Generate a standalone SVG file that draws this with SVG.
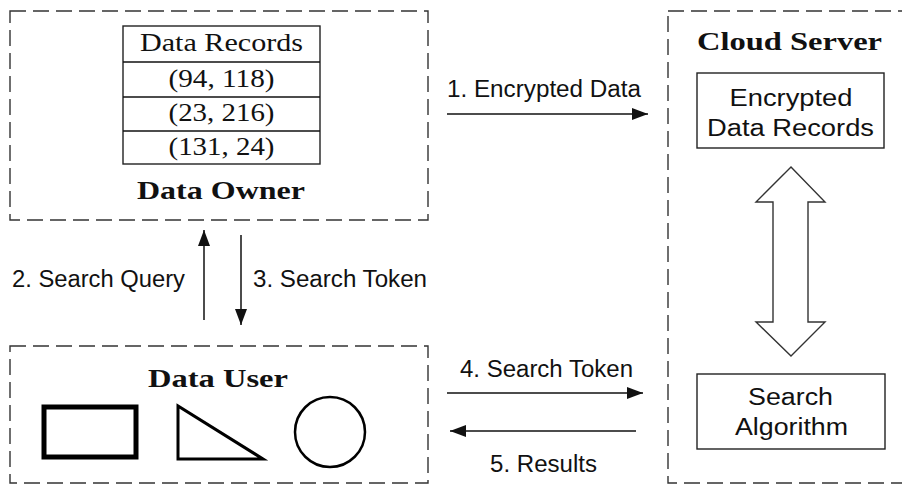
<svg xmlns="http://www.w3.org/2000/svg" width="902" height="484" viewBox="0 0 902 484">
  <style>
    .zone { fill: none; stroke: #333; stroke-width: 1.4; stroke-dasharray: 16 7; }
    .box { fill: #fff; stroke: #222; stroke-width: 1.4; }
    .serif { font-family: "Liberation Serif", "DejaVu Serif", serif; fill: #111; }
    .title { font-family: "Liberation Serif", "DejaVu Serif", serif; font-weight: bold; fill: #111; }
    .sans { font-family: "Liberation Sans", Arial, sans-serif; fill: #111; }
    .wire { stroke: #111; stroke-width: 1.5; fill: none; }
  </style>
  <defs>
    <marker id="head" viewBox="0 0 16 12" refX="16" refY="6" markerWidth="16" markerHeight="12" markerUnits="userSpaceOnUse" orient="auto">
      <path d="M0,0 L16,6 L0,12 z" fill="#111"/>
    </marker>
  </defs>

  <rect width="902" height="484" fill="#fff"/>

  <!-- Data Owner -->
  <g id="data-owner">
    <rect class="zone" x="10" y="11" width="418" height="209"/>
    <g id="data-records">
      <rect class="box" x="123" y="26" width="197" height="138"/>
      <line class="wire" x1="123" y1="62" x2="320" y2="62"/>
      <line class="wire" x1="123" y1="97" x2="320" y2="97"/>
      <line class="wire" x1="123" y1="131" x2="320" y2="131"/>
      <text class="serif" x="221.5" y="51" font-size="25" text-anchor="middle" textLength="163" lengthAdjust="spacingAndGlyphs">Data Records</text>
      <text class="serif" x="221.5" y="87" font-size="26" text-anchor="middle" textLength="106" lengthAdjust="spacingAndGlyphs">(94, 118)</text>
      <text class="serif" x="221.5" y="121" font-size="26" text-anchor="middle" textLength="106" lengthAdjust="spacingAndGlyphs">(23, 216)</text>
      <text class="serif" x="221.5" y="155" font-size="26" text-anchor="middle" textLength="106" lengthAdjust="spacingAndGlyphs">(131, 24)</text>
    </g>
    <text class="title" x="221" y="199" font-size="26" text-anchor="middle" textLength="168" lengthAdjust="spacingAndGlyphs">Data Owner</text>
  </g>

  <!-- Data User -->
  <g id="data-user">
    <rect class="zone" x="10" y="346" width="418" height="137"/>
    <text class="title" x="218" y="387" font-size="26" text-anchor="middle" textLength="140" lengthAdjust="spacingAndGlyphs">Data User</text>
    <rect x="44" y="407" width="92" height="50" fill="none" stroke="#000" stroke-width="5"/>
    <polygon points="178,406 178,459 263,459" fill="none" stroke="#000" stroke-width="3" stroke-linejoin="miter"/>
    <circle cx="330" cy="432" r="35" fill="none" stroke="#000" stroke-width="2.5"/>
  </g>

  <!-- Cloud Server -->
  <g id="cloud-server">
    <rect class="zone" x="668" y="11" width="240" height="472"/>
    <text class="title" x="789.5" y="50" font-size="26" text-anchor="middle" textLength="185" lengthAdjust="spacingAndGlyphs">Cloud Server</text>
  </g>

  <g id="encrypted-records">
    <rect class="box" x="697" y="73" width="187" height="75"/>
    <text class="sans" x="791" y="106" font-size="23" text-anchor="middle" textLength="123" lengthAdjust="spacingAndGlyphs">Encrypted</text>
    <text class="sans" x="790.5" y="136" font-size="23" text-anchor="middle" textLength="167" lengthAdjust="spacingAndGlyphs">Data Records</text>
  </g>

  <g id="search-algorithm">
    <rect class="box" x="697" y="374" width="188" height="75"/>
    <text class="sans" x="790.5" y="405" font-size="23" text-anchor="middle" textLength="85" lengthAdjust="spacingAndGlyphs">Search</text>
    <text class="sans" x="791.5" y="435" font-size="23" text-anchor="middle" textLength="113" lengthAdjust="spacingAndGlyphs">Algorithm</text>
  </g>

  <!-- Connectors -->
  <g id="connectors">
    <polygon points="791,167 825,202 808,202 808,322 825,322 791,356 756,322 773,322 773,202 756,202" fill="#fff" stroke="#333" stroke-width="1.4"/>

    <line class="wire" x1="447" y1="114" x2="648" y2="114" marker-end="url(#head)"/>
    <text class="sans" x="447" y="97" font-size="23.5" textLength="194" lengthAdjust="spacingAndGlyphs">1. Encrypted Data</text>

    <line class="wire" x1="204" y1="320" x2="204" y2="230" marker-end="url(#head)"/>
    <text class="sans" x="12" y="287" font-size="23.5" textLength="173" lengthAdjust="spacingAndGlyphs">2. Search Query</text>

    <line class="wire" x1="241" y1="235" x2="241" y2="325" marker-end="url(#head)"/>
    <text class="sans" x="253" y="287" font-size="23.5" textLength="174" lengthAdjust="spacingAndGlyphs">3. Search Token</text>

    <line class="wire" x1="447" y1="393" x2="643" y2="393" marker-end="url(#head)"/>
    <text class="sans" x="460" y="377" font-size="23.5" textLength="173" lengthAdjust="spacingAndGlyphs">4. Search Token</text>

    <line class="wire" x1="636" y1="431" x2="450" y2="431" marker-end="url(#head)"/>
    <text class="sans" x="490" y="472" font-size="23.5" textLength="107" lengthAdjust="spacingAndGlyphs">5. Results</text>
  </g>
</svg>
